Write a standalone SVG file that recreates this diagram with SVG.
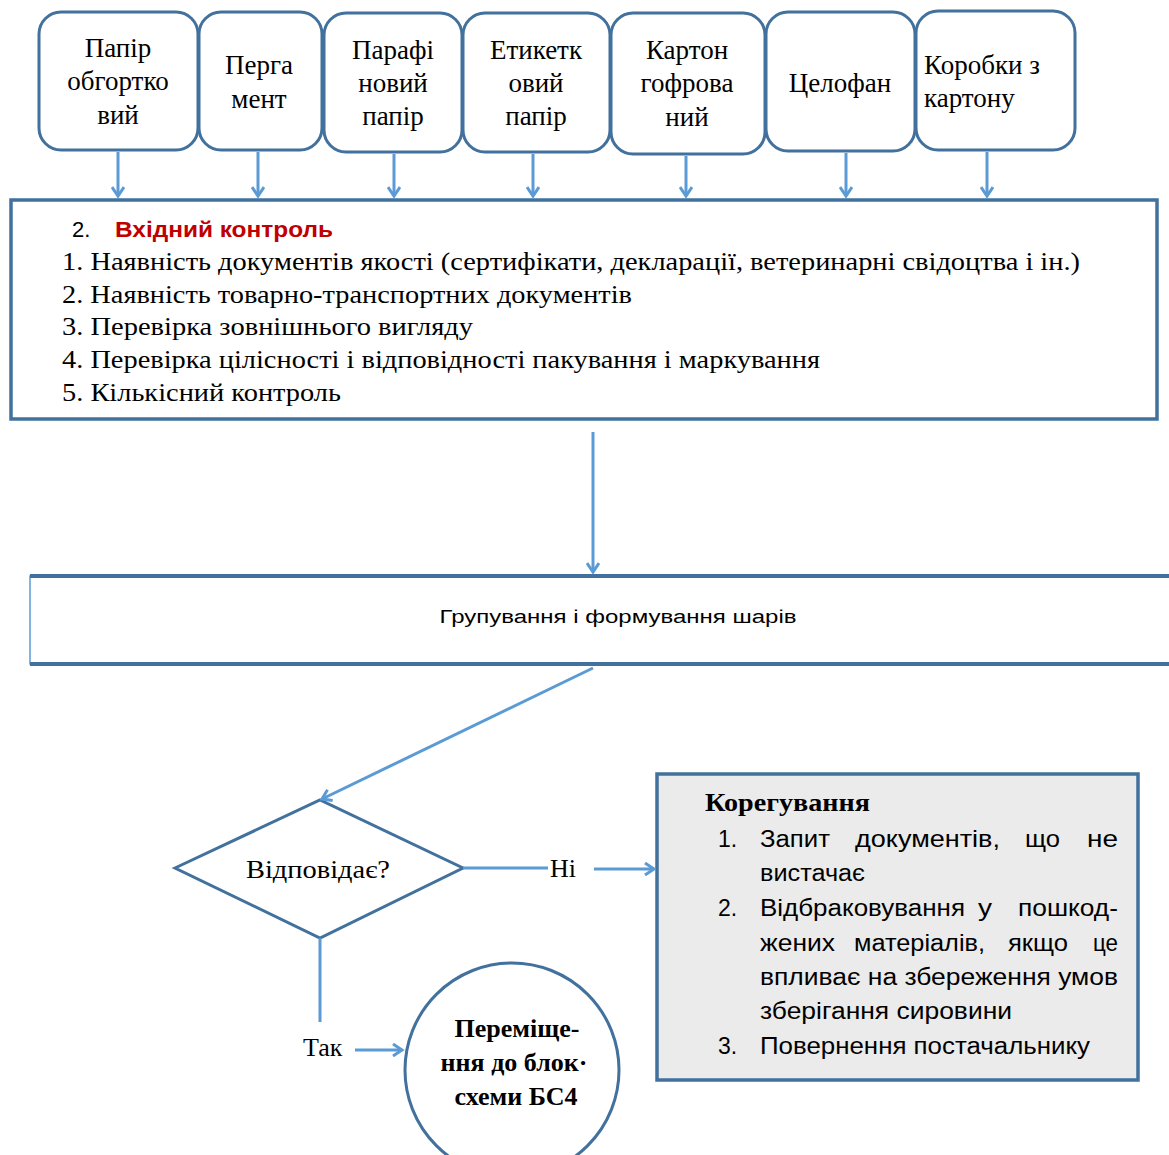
<svg xmlns="http://www.w3.org/2000/svg" width="1169" height="1155" viewBox="0 0 1169 1155">
<defs>
<style>
.rb{fill:#fff;stroke:#41719c;stroke-width:3}
.sf{font-family:"Liberation Serif","Times New Roman",serif;fill:#000}
.ss{font-family:"Liberation Sans",Arial,sans-serif;fill:#000}
.top{font-size:27px;text-anchor:middle}
.ln{fill:none;stroke:#5b9bd5;stroke-width:3}
</style>
<marker id="ah" markerWidth="14" markerHeight="14" refX="11" refY="7" orient="auto" markerUnits="userSpaceOnUse">
<path d="M2,1 L11,7 L2,13" fill="none" stroke="#5b9bd5" stroke-width="3"/>
</marker>
</defs>
<rect width="1169" height="1155" fill="#fff"/>

<g id="n1"><rect class="rb" x="39" y="12" width="159" height="138" rx="22"/>
<text class="sf top"><tspan x="118" y="57">Папір</tspan><tspan x="118" y="90">обгортко</tspan><tspan x="118" y="124">вий</tspan></text></g>
<g id="n2"><rect class="rb" x="199" y="12" width="123" height="138" rx="22"/>
<text class="sf top"><tspan x="259" y="74">Перга</tspan><tspan x="259" y="108">мент</tspan></text></g>
<g id="n3"><rect class="rb" x="324" y="13" width="138" height="139" rx="22"/>
<text class="sf top"><tspan x="393" y="59">Парафі</tspan><tspan x="393" y="92">новий</tspan><tspan x="393" y="125">папір</tspan></text></g>
<g id="n4"><rect class="rb" x="463" y="13" width="147" height="139" rx="22"/>
<text class="sf top"><tspan x="536" y="59">Етикетк</tspan><tspan x="536" y="92">овий</tspan><tspan x="536" y="125">папір</tspan></text></g>
<g id="n5"><rect class="rb" x="611" y="13" width="154" height="141" rx="22"/>
<text class="sf top"><tspan x="687" y="59">Картон</tspan><tspan x="687" y="92">гофрова</tspan><tspan x="687" y="126">ний</tspan></text></g>
<g id="n6"><rect class="rb" x="766" y="12" width="149" height="139" rx="22"/>
<text class="sf top" x="840" y="92">Целофан</text></g>
<g id="n7"><rect class="rb" x="916" y="11" width="159" height="139" rx="22"/>
<text class="sf" font-size="27"><tspan x="924" y="74">Коробки з</tspan><tspan x="924" y="107">картону</tspan></text></g>

<g id="n8"><rect x="11" y="200" width="1146" height="219" fill="#fff" stroke="#41719c" stroke-width="3.5"/>
<text class="ss" x="72" y="237" font-size="22">2.</text>
<text class="ss" x="115" y="237" font-size="22" font-weight="bold" style="fill:#c00000" textLength="218" lengthAdjust="spacingAndGlyphs">Вхідний контроль</text>
<text class="sf" font-size="26" x="62" y="270" textLength="1018" lengthAdjust="spacingAndGlyphs">1. Наявність документів якості (сертифікати, декларації, ветеринарні свідоцтва і ін.)</text>
<text class="sf" font-size="26" x="62" y="303" textLength="570" lengthAdjust="spacingAndGlyphs">2. Наявність товарно-транспортних документів</text>
<text class="sf" font-size="26" x="62" y="335" textLength="411" lengthAdjust="spacingAndGlyphs">3. Перевірка зовнішнього вигляду</text>
<text class="sf" font-size="26" x="62" y="368" textLength="758" lengthAdjust="spacingAndGlyphs">4. Перевірка цілісності і відповідності пакування і маркування</text>
<text class="sf" font-size="26" x="62" y="401" textLength="279" lengthAdjust="spacingAndGlyphs">5. Кількісний контроль</text></g>

<g id="n9"><rect x="30" y="576" width="1160" height="88" fill="#fff" stroke="#5b9bd5" stroke-width="1.5"/>
<line x1="30" y1="576" x2="1169" y2="576" stroke="#41719c" stroke-width="4"/>
<line x1="30" y1="664" x2="1169" y2="664" stroke="#41719c" stroke-width="4"/>
<text class="ss" x="618" y="623" font-size="18" text-anchor="middle" textLength="357" lengthAdjust="spacingAndGlyphs">Групування і формування шарів</text></g>

<g id="n10"><polygon points="175,868 320,800 463,868 320,938" fill="#fff" stroke="#41719c" stroke-width="3"/>
<text class="sf" x="318" y="878" font-size="26" text-anchor="middle" textLength="144" lengthAdjust="spacingAndGlyphs">Відповідає?</text></g>

<g id="n11"><circle cx="512" cy="1070" r="107" fill="#fff" stroke="#41719c" stroke-width="3"/>
<text class="sf" font-size="26" font-weight="bold" text-anchor="middle"><tspan x="517" y="1037">Переміще-</tspan><tspan x="514" y="1071">ння до блок·</tspan><tspan x="516" y="1105">схеми БС4</tspan></text></g>

<g id="n12"><rect x="657" y="774" width="481" height="306" fill="#ebebeb" stroke="#41719c" stroke-width="3.5"/>
<text class="sf" x="705" y="811" font-size="26" font-weight="bold" textLength="165" lengthAdjust="spacingAndGlyphs">Корегування</text>
<g class="ss" font-size="23">
<text x="718" y="847">1.</text>
<text x="760" y="847" textLength="70" lengthAdjust="spacingAndGlyphs">Запит</text><text x="855" y="847" textLength="145" lengthAdjust="spacingAndGlyphs">документів,</text><text x="1025" y="847" textLength="35" lengthAdjust="spacingAndGlyphs">що</text><text x="1087" y="847" textLength="31" lengthAdjust="spacingAndGlyphs">не</text>
<text x="760" y="881" textLength="105" lengthAdjust="spacingAndGlyphs">вистачає</text>
<text x="718" y="916">2.</text>
<text x="760" y="916" textLength="205" lengthAdjust="spacingAndGlyphs">Відбраковування</text><text x="978" y="916" textLength="14" lengthAdjust="spacingAndGlyphs">у</text><text x="1018" y="916" textLength="100" lengthAdjust="spacingAndGlyphs">пошкод-</text>
<text x="760" y="951" textLength="75" lengthAdjust="spacingAndGlyphs">жених</text><text x="854" y="951" textLength="131" lengthAdjust="spacingAndGlyphs">матеріалів,</text><text x="1008" y="951" textLength="60" lengthAdjust="spacingAndGlyphs">якщо</text><text x="1093" y="951" textLength="25" lengthAdjust="spacingAndGlyphs">це</text>
<text x="760" y="985" textLength="358" lengthAdjust="spacingAndGlyphs">впливає на збереження умов</text>
<text x="760" y="1019" textLength="252" lengthAdjust="spacingAndGlyphs">зберігання сировини</text>
<text x="718" y="1054">3.</text>
<text x="760" y="1054" textLength="330" lengthAdjust="spacingAndGlyphs">Повернення постачальнику</text>
</g></g>

<g id="labels" class="sf" font-size="26">
<text x="550" y="877">Ні</text>
<text x="303" y="1056">Так</text>
</g>

<g id="connectors">
<line class="ln" x1="118" y1="152" x2="118" y2="196" marker-end="url(#ah)"/>
<line class="ln" x1="258" y1="152" x2="258" y2="196" marker-end="url(#ah)"/>
<line class="ln" x1="394" y1="154" x2="394" y2="196" marker-end="url(#ah)"/>
<line class="ln" x1="533" y1="154" x2="533" y2="196" marker-end="url(#ah)"/>
<line class="ln" x1="686" y1="156" x2="686" y2="196" marker-end="url(#ah)"/>
<line class="ln" x1="846" y1="153" x2="846" y2="196" marker-end="url(#ah)"/>
<line class="ln" x1="987" y1="152" x2="987" y2="196" marker-end="url(#ah)"/>
<line class="ln" x1="593" y1="432" x2="593" y2="572" marker-end="url(#ah)"/>
<line class="ln" x1="593" y1="668" x2="322" y2="799" marker-end="url(#ah)"/>
<line class="ln" x1="463" y1="868" x2="548" y2="868"/>
<line class="ln" x1="594" y1="869" x2="654" y2="869" marker-end="url(#ah)"/>
<line class="ln" x1="320" y1="938" x2="320" y2="1022"/>
<line class="ln" x1="355" y1="1050" x2="402" y2="1050" marker-end="url(#ah)"/>
</g>
</svg>
